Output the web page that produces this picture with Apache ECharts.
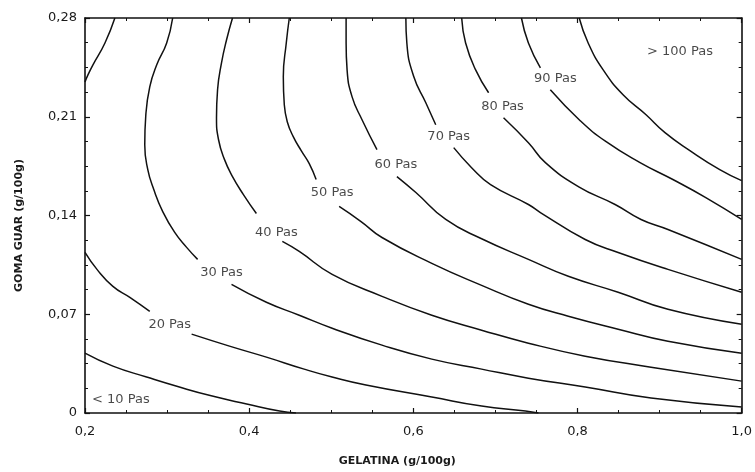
<!DOCTYPE html>
<html>
<head>
<meta charset="utf-8">
<script src="https://cdn.jsdelivr.net/npm/echarts@6/dist/echarts.min.js"></script>
<style>html,body{margin:0;padding:0;background:#fff}#c{width:755px;height:472px}</style>
</head>
<body>
<div id="c"></div>
<script>
// Tick labels
var xTickLabels = ['0,2', '0,4', '0,6', '0,8', '1,0'];
var yTickLabels = ['0', '0,07', '0,14', '0,21', '0,28'];

// Contour lines (GELATINA, GOMA GUAR); segments split where labels sit
var c10 = [[0.200,0.0424],[0.234,0.0332],[0.275,0.0255],[0.315,0.0184],[0.355,0.0120],[0.397,0.0064],[0.437,0.0014],[0.457,0]];
var c20a = [[0.2364,0.28],[0.2243,0.2623],[0.2097,0.2468],[0.2036,0.2397],[0.200,0.2347]];
var c20b = [[0.200,0.1138],[0.2146,0.1018],[0.234,0.0898],[0.2546,0.0820],[0.2789,0.0721]];
var c20c = [[0.3299,0.0559],[0.376,0.0474],[0.421,0.0396],[0.467,0.0311],[0.501,0.0255],[0.5423,0.0198],[0.6225,0.0113],[0.6832,0.0049],[0.7366,0.0014],[0.7524,0]];
var c30a = [[0.3068,0.28],[0.2995,0.2623],[0.2874,0.2468],[0.2789,0.2312],[0.2741,0.2114],[0.2728,0.1902],[0.2765,0.1725],[0.2838,0.1584],[0.2947,0.1428],[0.3093,0.1280],[0.3238,0.1174],[0.3372,0.1089]];
var c30b = [[0.3785,0.0912],[0.421,0.0785],[0.461,0.0693],[0.5011,0.0601],[0.5618,0.0481],[0.6225,0.0382],[0.6832,0.0311],[0.7402,0.0247],[0.8094,0.0184],[0.8896,0.0106],[1.0,0.0042]];
var c40a = [[0.3797,0.28],[0.3724,0.2644],[0.3663,0.2482],[0.3615,0.2291],[0.3602,0.2093],[0.3627,0.1937],[0.3700,0.1796],[0.3797,0.1676],[0.3930,0.1548],[0.4088,0.1414]];
var c40b = [[0.4404,0.1216],[0.461,0.1145],[0.5011,0.0983],[0.5618,0.0827],[0.6225,0.0693],[0.6832,0.0587],[0.7402,0.0495],[0.8094,0.0403],[0.8896,0.0325],[1.0,0.0226]];
var c50a = [[0.4489,0.28],[0.4452,0.2623],[0.4416,0.2383],[0.4428,0.2185],[0.4464,0.2065],[0.4537,0.1959],[0.4634,0.1860],[0.4732,0.1768],[0.4816,0.1655]];
var c50b = [[0.5096,0.1464],[0.5363,0.1357],[0.5618,0.1244],[0.6225,0.1061],[0.6832,0.0905],[0.7402,0.0771],[0.7888,0.0686],[0.8495,0.0594],[0.9102,0.0509],[1.0,0.0424]];
var c60a = [[0.5181,0.28],[0.5181,0.2623],[0.5193,0.2432],[0.5254,0.2241],[0.5375,0.2079],[0.5557,0.1867]];
var c60b = [[0.580,0.1676],[0.6031,0.1563],[0.6395,0.1372],[0.6832,0.1235],[0.7402,0.1089],[0.7888,0.0969],[0.8495,0.0856],[0.9102,0.0735],[1.0,0.0629]];
var c70a = [[0.5909,0.28],[0.5921,0.2623],[0.6006,0.2383],[0.6152,0.2199],[0.6273,0.2043]];
var c70b = [[0.6492,0.1881],[0.671,0.1739],[0.6941,0.1619],[0.7402,0.1478],[0.7548,0.1421],[0.8094,0.1230],[0.8495,0.1138],[0.9102,0.1018],[1.0,0.0856]];
var c80a = [[0.6589,0.28],[0.6637,0.2623],[0.6759,0.2432],[0.6917,0.2270]];
var c80b = [[0.7099,0.2093],[0.7402,0.1916],[0.7609,0.1775],[0.8010,0.1605],[0.8458,0.1478],[0.8774,0.1372],[0.9102,0.1301],[1.0,0.1089]];
var c90a = [[0.7317,0.28],[0.7402,0.2623],[0.7548,0.2447]];
var c90b = [[0.7669,0.2291],[0.8033,0.2072],[0.8349,0.1923],[0.8762,0.1775],[0.9162,0.1655],[0.9563,0.1527],[1.0,0.1372]];
var c100 = [[0.8021,0.28],[0.8130,0.2623],[0.8313,0.2432],[0.8555,0.2256],[0.8835,0.2114],[0.9066,0.1987],[0.9369,0.1860],[0.9733,0.1725],[1.0,0.1647]];

// Contour labels and their anchor points (data coordinates)
var labelTexts = ['< 10 Pas', '20 Pas', '30 Pas', '40 Pas', '50 Pas', '60 Pas', '70 Pas', '80 Pas', '90 Pas', '> 100 Pas'];
var labelPoints = [[0.2437,0.0092],[0.3032,0.0629],[0.3663,0.0997],[0.4331,0.1280],[0.5011,0.1563],[0.5788,0.1761],[0.6431,0.1959],[0.7087,0.2171],[0.773,0.2369],[0.9248,0.2560]];

var segments = [c10, c20a, c20b, c20c, c30a, c30b, c40a, c40b, c50a, c50b, c60a, c60b, c70a, c70b, c80a, c80b, c90a, c90b, c100];

var FONT = 'DejaVu Sans';
var chart = echarts.init(document.getElementById('c'), null, {renderer: 'canvas'});

var series = segments.map(function (seg) {
  return {
    type: 'line', data: seg, symbol: 'none', smooth: 0.5, silent: true,
    lineStyle: {color: '#111', width: 1.5},
    xAxisIndex: 0, yAxisIndex: 0, z: 3
  };
});
series.push({
  type: 'scatter', symbolSize: 0, silent: true, xAxisIndex: 0, yAxisIndex: 0, z: 5,
  data: labelPoints.map(function (p, i) { return {value: p, name: labelTexts[i]}; }),
  label: {show: true, position: 'inside', formatter: function (p) { return p.name; },
    color: '#1a1a1a', fontFamily: FONT, fontSize: 13}
});

function xLab(v) { var i = Math.round((v - 0.2) / 0.2); return xTickLabels[i] || ''; }
function yLab(v) { var i = Math.round(v / 0.07); return yTickLabels[i] || ''; }

var axisLine = {show: true, onZero: false, lineStyle: {color: '#111', width: 1.6}};
var tick = {show: true, inside: true, length: 5, lineStyle: {color: '#111', width: 1.2}};
var minor = {show: true, splitNumber: 4, length: 3, lineStyle: {color: '#111', width: 1}};

chart.setOption({
  animation: false,
  backgroundColor: '#fff',
  grid: {left: 85, right: 11, top: 18, bottom: 58, containLabel: false},
  xAxis: [{
    type: 'value', min: 0.2, max: 1.0, interval: 0.2, position: 'bottom',
    name: 'GELATINA (g/100g)', nameLocation: 'middle', nameGap: 43,
    nameTextStyle: {fontFamily: FONT, fontSize: 11, fontWeight: 'bold', color: '#1a1a1a', padding: [0, 32, 0, 0]},
    axisLine: axisLine, axisTick: tick, minorTick: minor, splitLine: {show: false},
    axisLabel: {formatter: xLab, fontFamily: FONT, fontSize: 13, color: '#1a1a1a', margin: 12}
  }, {
    type: 'value', min: 0.2, max: 1.0, interval: 0.2, position: 'top',
    axisLine: axisLine, axisTick: tick, minorTick: minor, splitLine: {show: false},
    axisLabel: {show: false}
  }],
  yAxis: [{
    type: 'value', min: 0, max: 0.28, interval: 0.07, position: 'left',
    name: 'GOMA GUAR (g/100g)', nameLocation: 'middle', nameGap: 60,
    nameTextStyle: {fontFamily: FONT, fontSize: 11, fontWeight: 'bold', color: '#1a1a1a', padding: [0, 20, 0, 0]},
    axisLine: axisLine, axisTick: tick, minorTick: minor, splitLine: {show: false},
    axisLabel: {formatter: yLab, fontFamily: FONT, fontSize: 13, color: '#1a1a1a', margin: 8}
  }, {
    type: 'value', min: 0, max: 0.28, interval: 0.07, position: 'right',
    axisLine: axisLine, axisTick: tick, minorTick: minor, splitLine: {show: false},
    axisLabel: {show: false}
  }],
  series: series
});
</script>
</body>
</html>
